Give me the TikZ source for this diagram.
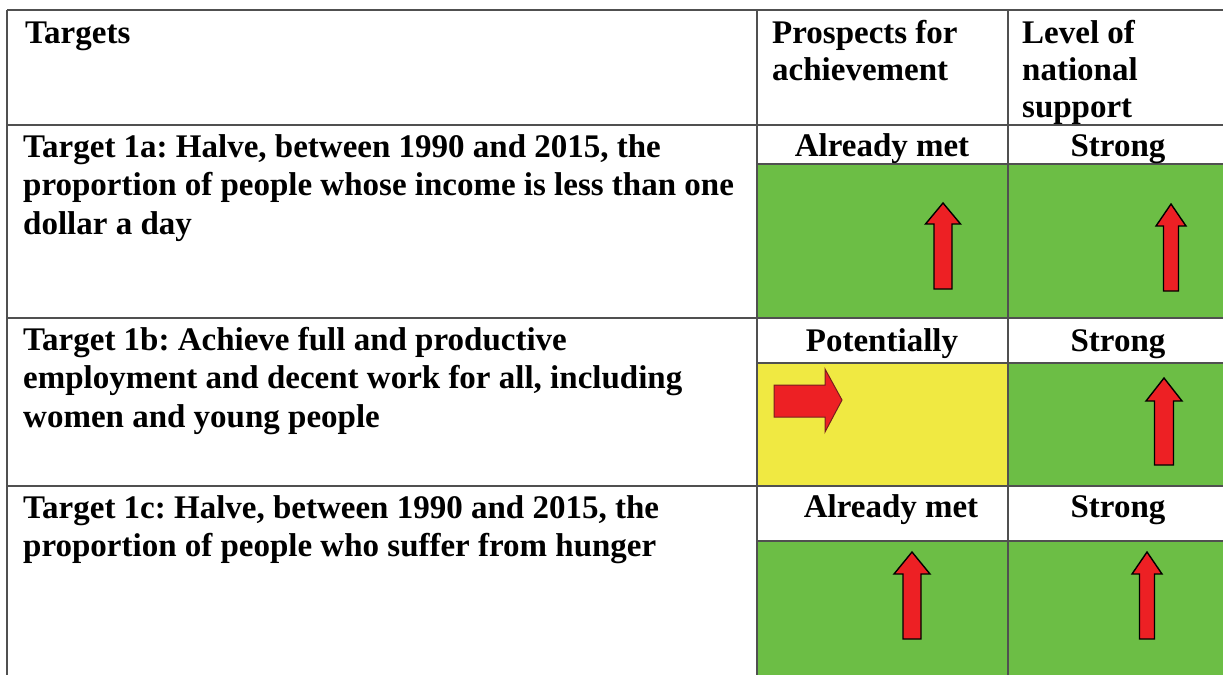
\documentclass[tikz,border=0pt]{standalone}
\usepackage{fontspec}
\setmainfont{Liberation Serif}
\usetikzlibrary{positioning}
\definecolor{goodgreen}{RGB}{108,190,69}
\definecolor{fairyellow}{RGB}{240,233,66}
\definecolor{arrowred}{RGB}{237,32,36}
\definecolor{arrowdark}{RGB}{120,30,30}
\definecolor{gridgray}{RGB}{80,80,80}
\frenchspacing

\begin{document}
\begin{tikzpicture}[
  x=1pt, y=-1pt,
  every node/.style={align=left, inner sep=0pt, font=\fontsize{33}{38.5}\selectfont\bfseries},
  txt/.style={anchor=north west},
  rating/.style={anchor=base},
  grid/.style={draw=gridgray, line width=1.6pt},
  uparr/.style={fill=arrowred, draw=black, line width=1.4pt, line join=miter}
]
\useasboundingbox (0,0) rectangle (1223,675);

% Cell colours
\fill[goodgreen] (757,164) rectangle (1223,318);
\fill[fairyellow] (757,363) rectangle (1008,486);
\fill[goodgreen] (1008,363) rectangle (1223,486);
\fill[goodgreen] (757,541) rectangle (1223,675);

% Grid lines
\foreach \y in {10,125,318,486} \draw[grid] (7,\y) -- (1223,\y);
\foreach \y in {164,363,541} \draw[grid] (757,\y) -- (1223,\y);
\foreach \x in {7,757,1008} \draw[grid] (\x,10) -- (\x,675);

% Header row
\node[txt] (hTargets) at (25,22) {Targets};
\node[txt] (hProspects) at (772,20) {Prospects for\\[-1.5pt]achievement};
\node[txt] (hSupport) at (1022,20) {Level of\\[-1.5pt]national\\[-1.5pt]support};

% Targets
\node[txt] (t1a) at (23,134) {Target 1a: Halve, between 1990 and 2015, the\\proportion of people whose income is less than one\\dollar a day};
\node[txt] (t1b) at (23,327) {Target 1b: Achieve full and productive\\employment and decent work for all, including\\women and young people};
\node[txt] (t1c) at (23,495) {Target 1c: Halve, between 1990 and 2015, the\\proportion of people who suffer from hunger};

% Ratings
\node[rating] (p1a) at (882,156.5) {Already met};
\node[rating] (s1a) at (1118,156.5) {Strong};
\node[rating] (p1b) at (882,351) {Potentially};
\node[rating] (s1b) at (1118,351) {Strong};
\node[rating] (p1c) at (891,517) {Already met};
\node[rating] (s1c) at (1118,517) {Strong};

% Trend arrows
\foreach \tx/\ty/\hw/\sw/\hb/\bt in {943/203/17.5/9/224/289, 1171/204/15/7.5/226/291,
    1164/378/18/9.5/401/465, 912/552/18/9/574/639, 1147/552/15/7.5/574/639}
  \draw[uparr] (\tx,\ty) -- (\tx+\hw,\hb) -- (\tx+\sw,\hb) -- (\tx+\sw,\bt)
    -- (\tx-\sw,\bt) -- (\tx-\sw,\hb) -- (\tx-\hw,\hb) -- cycle;
\draw[fill=arrowred, draw=arrowdark, line width=1pt] (774,385) -- (825,385) -- (825,369)
  -- (842,400) -- (825,432) -- (825,417) -- (774,417) -- cycle;

\end{tikzpicture}
\end{document}
